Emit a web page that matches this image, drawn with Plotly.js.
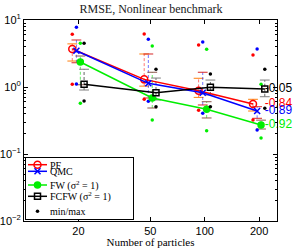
<!DOCTYPE html>
<html><head><meta charset="utf-8">
<script src="https://cdn.plot.ly/plotly-3.0.1.min.js"></script>
<style>html,body{margin:0;padding:0;background:#fff}#c{width:299px;height:248px}</style>
</head><body><div id="c"></div>
<script>
const particles = [20, 50, 100, 200];
const xOffsets = [0.925, 0.975, 1.025, 1.075];
const seriesNames = ['PF', 'QMC', 'FW (σ<sup>2</sup> = 1)', 'FCFW (σ<sup>2</sup> = 1)'];
const pfMean = [3.69, 1.30, 0.88, 0.557];
const pfLo   = [2.44, 1.03, 0.70, 0.438];
const pfHi   = [4.40, 3.11, 1.35, 0.655];
const pfMin  = [1.10, 0.655, 0.45, 0.322];
const pfMax  = [6.12, 6.19, 4.24, 3.0];
const qmcMean = [3.48, 1.135, 0.822, 0.438];
const qmcLo   = [2.30, 0.685, 0.539, 0.341];
const qmcHi   = [5.03, 3.11, 1.66, 0.508];
const qmcMin  = [1.11, 0.612, 0.405, 0.228];
const qmcMax  = [7.78, 5.16, 4.69, 3.69];
const fwMean = [2.36, 0.685, 0.465, 0.271];
const fwLo   = [1.08, 0.486, 0.345, 0.236];
const fwHi   = [2.9, 1.66, 0.603, 0.32];
const fwMin  = [0.571, 0.322, 0.223, 0.173];
const fwMax  = [4.49, 4.09, 3.66, 1.10];
const fcMean = [1.10, 0.822, 0.99, 0.935];
const fcLo   = [0.902, 0.64, 0.76, 0.716];
const fcHi   = [1.84, 1.36, 1.27, 1.27];
const fcMin  = [0.618, 0.508, 0.508, 0.481];
const fcMax  = [4.49, 1.84, 1.56, 1.84];
const slopeLabels = ['-0.84', '-0.89', '-0.92', '-0.05'];
const yTickVals = [0.01, 0.1, 1, 10];
const yTickText = ['10<sup>−2</sup>', '10<sup>−1</sup>', '10<sup>0</sup>', '10<sup>1</sup>'];

const colors = ['#ff0000', '#0000ff', '#00ee00', '#000000'];
const errColors = ['rgba(255,0,0,0.55)', 'rgba(0,0,255,0.55)', 'rgba(0,220,0,0.6)', 'rgba(0,0,0,0.6)'];
const symbols = ['circle-open', 'x-thin-open', 'circle', 'square-open'];
const msizes = [7, 6, 6, 6];
const data = [
  {mean: pfMean, lo: pfLo, hi: pfHi, mn: pfMin, mx: pfMax},
  {mean: qmcMean, lo: qmcLo, hi: qmcHi, mn: qmcMin, mx: qmcMax},
  {mean: fwMean, lo: fwLo, hi: fwHi, mn: fwMin, mx: fwMax},
  {mean: fcMean, lo: fcLo, hi: fcHi, mn: fcMin, mx: fcMax}
];
const serif = 'Liberation Serif, Times New Roman, serif';
const sans = 'Liberation Sans, Arial, sans-serif';
const traces = [];
const legendTraces = [];
const dotTraces = [];
data.forEach((s, k) => {
  const xs = particles.map(p => p * xOffsets[k]);
  const ex = [], ey = [];
  xs.forEach((x, i) => { ex.push(x, x, null); ey.push(s.lo[i], s.hi[i], null); });
  traces.push({x: ex, y: ey, mode: 'lines', showlegend: false, hoverinfo: 'skip',
    line: {color: errColors[k], width: 1, dash: '3px,2px'}});
  const cx = [], cy = [];
  xs.forEach((x, i) => { cx.push(x, x); cy.push(s.lo[i], s.hi[i]); });
  traces.push({x: cx, y: cy, mode: 'markers', showlegend: false, hoverinfo: 'skip',
    marker: {symbol: 'line-ew-open', size: 7, line: {color: errColors[k], width: 1}}});
  const mx = [], my = [];
  xs.forEach((x, i) => { mx.push(x, x); my.push(s.mn[i], s.mx[i]); });
  dotTraces.push({x: mx, y: my, mode: 'markers', name: 'min/max', showlegend: k === 3,
    legendrank: 5, marker: {symbol: 'circle', size: 3.5, color: colors[k]}});
  legendTraces.push({x: xs, y: s.mean, mode: 'lines+markers', name: seriesNames[k], legendrank: k + 1,
    line: {color: colors[k], width: 1.5},
    marker: {symbol: symbols[k], size: msizes[k], color: colors[k], line: {color: colors[k], width: 1.5}}});
});
const labelTraces = data.map((s, k) => ({
  x: [particles[3] * xOffsets[3]], y: [s.mean[3]], mode: 'text', text: [slopeLabels[k]],
  textposition: 'middle right', cliponaxis: false, showlegend: false, hoverinfo: 'skip',
  textfont: {family: sans, size: 12, color: colors[k]}
}));
const allTraces = traces.concat(dotTraces.slice(0, 3), legendTraces, [dotTraces[3]], labelTraces);

const layout = {
  width: 299, height: 248,
  margin: {l: 24, r: 22, t: 20, b: 27},
  paper_bgcolor: '#fff', plot_bgcolor: '#fff',
  showlegend: true,
  title: {text: 'RMSE, Nonlinear benchmark', font: {family: serif, size: 12, color: '#222'},
    x: 0.505, xanchor: 'center', y: 0.963, yanchor: 'middle'},
  xaxis: {type: 'log', range: [1, 2.4], tickmode: 'array', tickvals: particles,
    ticktext: particles.map(String), ticks: 'inside', ticklen: 4, tickcolor: '#000',
    showline: true, linecolor: '#000', linewidth: 1, mirror: 'ticks', showgrid: false, zeroline: false,
    tickfont: {family: sans, size: 11, color: '#000'},
    title: {text: 'Number of particles', font: {family: serif, size: 11, color: '#000'}, standoff: 2}},
  yaxis: {type: 'log', range: [-2, 1], tickmode: 'array', tickvals: yTickVals, ticktext: yTickText,
    ticks: 'inside', ticklen: 4, tickcolor: '#000',
    minor: {dtick: 'D1', ticks: 'inside', ticklen: 2, tickcolor: '#000', showgrid: false},
    showline: true, linecolor: '#000', linewidth: 1, mirror: 'ticks', showgrid: false, zeroline: false,
    tickfont: {family: sans, size: 11, color: '#000'}},
  legend: {x: 0.005, y: 0.02, xanchor: 'left', yanchor: 'bottom', bgcolor: '#fff',
    bordercolor: '#000', borderwidth: 1, font: {family: serif, size: 10, color: '#000'},
    tracegroupgap: 0, itemwidth: 30}
};
const gd = document.getElementById('c');
Plotly.newPlot(gd, allTraces, layout, {staticPlot: true, displayModeBar: false}).then(() => {
  const itemY = {'PF': 7.7, 'QMC': 14.3, 'FW': 28, 'FCFW': 39.3, 'min/max': 54.3};
  const leg = gd.querySelector('.legend');
  if (!leg) return;
  leg.setAttribute('transform', 'translate(25,157)');
  const bg = leg.querySelector('rect.bg');
  if (bg) { bg.setAttribute('width', 108); bg.setAttribute('height', 62); bg.setAttribute('x', 0.5); bg.setAttribute('y', 0.5); }
  const sb = leg.querySelector('.scrollbox');
  if (sb) sb.setAttribute('transform', 'translate(0,0)');
  const grp = leg.querySelector('.groups');
  if (grp) grp.setAttribute('transform', 'translate(0,0)');
  const gdLeft = gd.getBoundingClientRect().left;
  leg.querySelectorAll('.traces').forEach(tr => {
    const t = tr.querySelector('.legendtext');
    if (!t) return;
    const key = t.textContent.trim().split(' ')[0];
    const yy = itemY[key];
    if (yy === undefined) return;
    tr.setAttribute('transform', 'translate(0,' + yy + ')');
    t.setAttribute('x', 25);
    t.querySelectorAll('tspan').forEach(ts => { if (ts.getAttribute('x') !== null) ts.setAttribute('x', 25); });
    t.removeAttribute('transform');
    const left = t.getBoundingClientRect().left - gdLeft;
    if (Math.abs(left - 50.5) > 0.8) t.setAttribute('transform', 'translate(' + (50.5 - left) + ',0)');
    tr.querySelectorAll('.legendlines path').forEach(p => p.setAttribute('d', 'M3,0h19'));
    tr.querySelectorAll('.legendpoints path').forEach(p => p.setAttribute('transform', 'translate(12.5,0)'));
    const tog = tr.querySelector('.legendtoggle');
    if (tog) tog.setAttribute('width', 100);
  });
});
</script></body></html>
